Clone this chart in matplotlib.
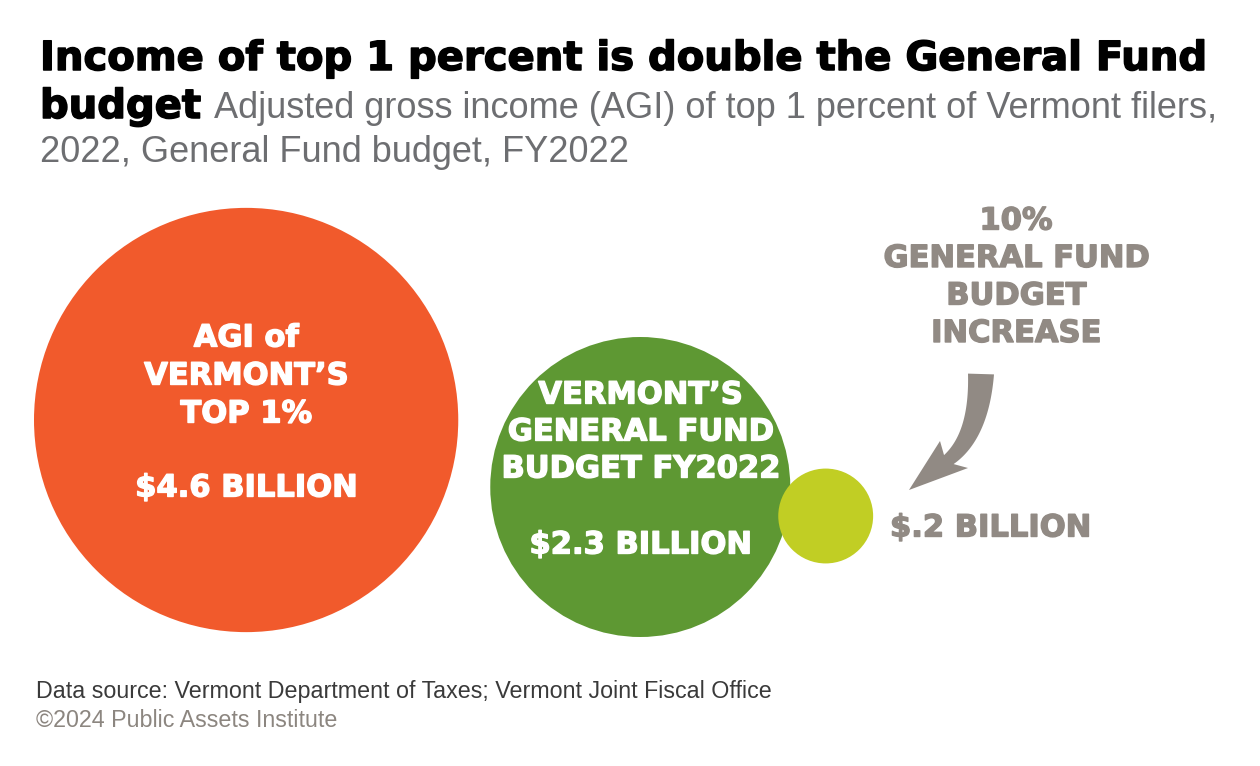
import numpy as np
import matplotlib
matplotlib.use("Agg")
import matplotlib.pyplot as plt
import matplotlib.patheffects as pe
from matplotlib.patches import Circle, Polygon

# data
names = [
    ["AGI of", "VERMONT\u2019S", "TOP 1%"],
    ["VERMONT\u2019S", "GENERAL FUND", "BUDGET FY2022"],
    ["10%", "GENERAL FUND", "BUDGET", "INCREASE"],
]
values = [4.6, 2.3, 0.23]  # billions of dollars
value_labels = ["$4.6 BILLION", "$2.3 BILLION", "$.2 BILLION"]
colors = ["#F15A2C", "#5E9833", "#C1CE24"]

GRAY = "#918A84"
W, H = 1260, 766

fig = plt.figure(figsize=(W / 100, H / 100), dpi=100)
ax = fig.add_axes([0, 0, 1, 1])
ax.set_xlim(0, W)
ax.set_ylim(H, 0)
ax.set_aspect("equal")
ax.axis("off")

# circle area proportional to value
k = 150 / np.sqrt(values[1])
radii = [k * np.sqrt(v) for v in values]
cx = [34 + radii[0]]
cx.append(cx[0] + radii[0] + 32 + radii[1])
cx.append(cx[1] + radii[1] - 12 + radii[2])
cy = [420, 487, 516]
for x, y, r, c in zip(cx, cy, radii, colors):
    ax.add_patch(Circle((x, y), r, facecolor=c, edgecolor="none"))


def heavy(color, lw=1.0):
    # thicken DejaVu bold a little towards the black weight of the original
    return [pe.withStroke(linewidth=lw, foreground=color)]


lab = dict(family="DejaVu Sans", weight="bold", fontsize=22, ha="center", va="center")
for i, y0, step, vy in [(0, 338, 38, 488), (1, 395, 37, 545)]:
    for j, line in enumerate(names[i]):
        ax.text(cx[i], y0 + j * step, line, color="white", path_effects=heavy("white"), **lab)
    ax.text(cx[i], vy, value_labels[i], color="white", path_effects=heavy("white"), **lab)

for j, line in enumerate(names[2]):
    ax.text(1016, 221 + j * 37.5, line, color=GRAY, path_effects=heavy(GRAY), **lab)
ax.text(890, 528, value_labels[2], color=GRAY, path_effects=heavy(GRAY), **{**lab, "ha": "left"})

# curved arrow: tapered shaft along a quadratic bezier plus a swept head
p0, p1, p2 = np.array([981, 374.0]), np.array([979, 440.0]), np.array([944, 463.0])
t = np.linspace(0, 1, 40)[:, None]
pts = (1 - t) ** 2 * p0 + 2 * (1 - t) * t * p1 + t ** 2 * p2
der = 2 * (1 - t) * (p1 - p0) + 2 * t * (p2 - p1)
nrm = np.column_stack([-der[:, 1], der[:, 0]])
nrm /= np.linalg.norm(nrm, axis=1, keepdims=True)
half = (13 - 7 * t)
shaft = np.vstack([pts + nrm * half, (pts - nrm * half)[::-1]])
ax.add_patch(Polygon(shaft, closed=True, facecolor=GRAY, edgecolor="none"))
head = [(940, 441), (946, 462), (968, 468), (909, 490)]
ax.add_patch(Polygon(head, closed=True, facecolor=GRAY, edgecolor="none"))

# titles
fig.canvas.draw()
r = fig.canvas.get_renderer()


def fit(artist, width):
    w = artist.get_window_extent(r).width
    artist.set_fontsize(artist.get_fontsize() * width / w)


title = ax.text(40, 70, "Income of top 1 percent is double the General Fund",
                family="DejaVu Sans", weight="bold", fontsize=30, va="baseline",
                path_effects=heavy("black", 1.1))
fit(title, 1166)
b = ax.text(40, 118, "budget", family="DejaVu Sans", weight="bold",
            fontsize=title.get_fontsize(), va="baseline", path_effects=heavy("black", 1.1))
bx = b.get_window_extent(r).x1
sub = ax.text(bx + 13, 118, "Adjusted gross income (AGI) of top 1 percent of Vermont filers,",
              family="Liberation Sans", fontsize=26, color="#6D6E71", va="baseline")
fit(sub, 1217 - bx - 13)
ax.text(40, 162, "2022, General Fund budget, FY2022", family="Liberation Sans",
        fontsize=sub.get_fontsize(), color="#6D6E71", va="baseline")

src = ax.text(36, 698, "Data source: Vermont Department of Taxes; Vermont Joint Fiscal Office",
              family="Liberation Sans", fontsize=17, color="#3A3A3A", va="baseline")
fit(src, 737)
ax.text(36, 727, "\u00a92024 Public Assets Institute", family="Liberation Sans",
        fontsize=src.get_fontsize(), color="#8C8680", va="baseline")

fig.savefig("out.png", dpi=100, facecolor="white")
